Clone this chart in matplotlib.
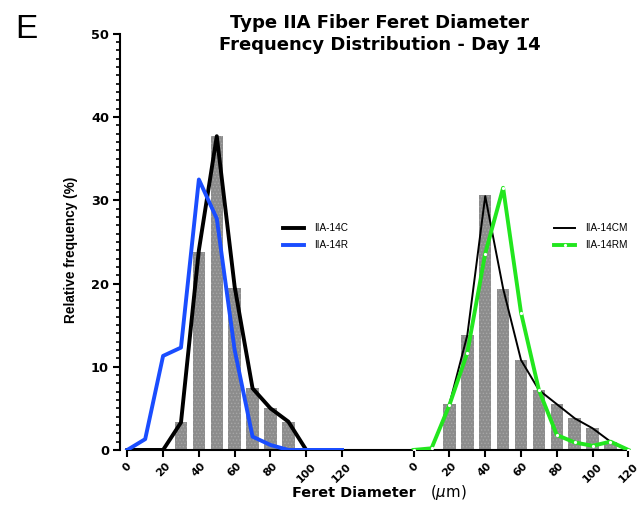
import numpy as np
import matplotlib
matplotlib.use("Agg")
import matplotlib.pyplot as plt

plt.rcParams['font.family'] = ['DejaVu Sans']
plt.rcParams['hatch.linewidth'] = 0.6

# left group (day 14, C vs R)
bin_left = [30, 40, 50, 60, 70, 80, 90]
bars_left = [3.4, 23.8, 37.7, 19.5, 7.5, 5.0, 3.4]
x_c = [0, 10, 20, 30, 40, 50, 60, 70, 80, 90, 100]
iia_14c = [0, 0, 0, 3.3, 24.0, 37.7, 19.6, 7.4, 5.0, 3.4, 0]
x_r = [0, 10, 20, 30, 40, 50, 60, 70, 80, 90, 100, 110, 120]
iia_14r = [0, 1.3, 11.3, 12.3, 32.5, 27.8, 12.0, 1.6, 0.6, 0, 0, 0, 0]

# right group (day 14, CM vs RM)
bin_right = [20, 30, 40, 50, 60, 70, 80, 90, 100, 110]
bars_right = [5.5, 13.8, 30.6, 19.4, 10.8, 7.2, 5.5, 3.8, 2.6, 1.0]
x_m = [0, 10, 20, 30, 40, 50, 60, 70, 80, 90, 100, 110, 120]
iia_14cm = [0, 0.2, 5.5, 13.8, 30.5, 19.4, 10.8, 7.2, 5.5, 3.8, 2.6, 1.0, 0]
iia_14rm = [0, 0.2, 5.4, 11.7, 23.6, 31.5, 16.5, 7.2, 1.8, 0.9, 0.5, 1.0, 0]

offset = 160  # right group drawn shifted along the same axis
tick_vals = [0, 20, 40, 60, 80, 100, 120]

fig = plt.figure(figsize=(6.39, 5.05), dpi=100)
ax = fig.add_axes([0.188, 0.109, 0.801, 0.824])

ax.bar(bin_left, bars_left, width=7, color='#8c8c8c', edgecolor='#a6a6a6',
       hatch='.....', linewidth=0, zorder=1)
ax.bar([b + offset for b in bin_right], bars_right, width=7, color='#8c8c8c',
       edgecolor='#a6a6a6', hatch='.....', linewidth=0, zorder=1)

leg_font = {'family': 'Liberation Sans', 'size': 7.2}

ax.plot(x_c, iia_14c, color='black', lw=2.8, label='IIA-14C', zorder=3)
ax.plot(x_r, iia_14r, color='#1a4dff', lw=2.8, label='IIA-14R', zorder=4)
leg1 = ax.legend(loc='upper left', bbox_to_anchor=(0.318, 0.545), frameon=False,
                 prop=leg_font, handlelength=2.1, handletextpad=1.0,
                 labelspacing=0.7, borderpad=0, borderaxespad=0)
ax.add_artist(leg1)

l1, = ax.plot([x + offset for x in x_m], iia_14cm, color='black', lw=1.4, zorder=3)
l2, = ax.plot([x + offset for x in x_m], iia_14rm, color='#22e61e', lw=2.8,
              marker='o', ms=1.3, mfc='white', mec='white', zorder=4)
ax.legend([l1, l2], ['IIA-14CM', 'IIA-14RM'], loc='upper left',
          bbox_to_anchor=(0.848, 0.545), frameon=False, prop=leg_font,
          handlelength=2.1, handletextpad=1.0, labelspacing=0.7,
          borderpad=0, borderaxespad=0)

ax.set_xlim(-4, 282)
ax.set_ylim(0, 50)
ax.set_xticks(tick_vals + [t + offset for t in tick_vals])
ax.set_xticklabels([str(t) for t in tick_vals] * 2, rotation=45, ha='center',
                   fontsize=7.8, fontweight='bold')
ax.set_yticks(np.arange(0, 51, 10))
ax.set_yticks(np.arange(0, 51, 1), minor=True)
for lab in ax.get_yticklabels():
    lab.set_fontweight('bold')
    lab.set_fontsize(9.3)

for s in ['top', 'right']:
    ax.spines[s].set_visible(False)
for s in ['left', 'bottom']:
    ax.spines[s].set_linewidth(1.5)
ax.spines['bottom'].set_bounds(0, 280)
ax.tick_params(axis='both', which='major', length=5, width=1.5, pad=3)
ax.tick_params(axis='y', which='minor', length=3, width=1.2)
ax.tick_params(axis='x', which='minor', bottom=False)

ax.set_ylabel('Relative frequency (%)', fontsize=9.8, fontweight='bold',
              family='Liberation Sans')
ax.yaxis.set_label_coords(-0.082, 0.48)

fig.text(0.594, 1 - 28 / 505, 'Type IIA Fiber Feret Diameter', fontsize=13,
         fontweight='bold', ha='center', va='baseline')
fig.text(0.594, 1 - 50 / 505, 'Frequency Distribution - Day 14', fontsize=13,
         fontweight='bold', ha='center', va='baseline')

fig.text(292 / 639, 1 - 497 / 505, 'Feret Diameter', fontsize=10.4,
         fontweight='bold', ha='left', va='baseline')
fig.text(430 / 639, 1 - 497 / 505, r'($\mu$m)', fontsize=10.8, ha='left', va='baseline')
fig.text(15 / 639, 1 - 38 / 505, 'E', fontsize=24, family='Liberation Sans',
         va='baseline')

fig.savefig('out.png', dpi=100)
